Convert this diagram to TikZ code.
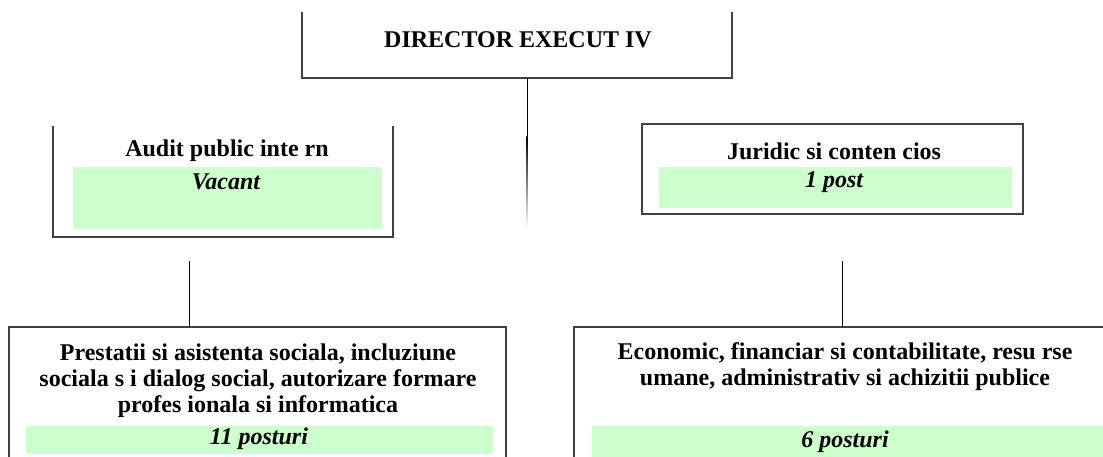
\documentclass[tikz,border=0pt]{standalone}
\usepackage{fontspec}
\setmainfont{Liberation Serif}
\begin{document}
\begin{tikzpicture}[x=1pt,y=-1pt,
  boxline/.style={draw=black!75,line width=1.4pt},
  conn/.style={draw=black,line width=1pt},
  greenbar/.style={fill=lightgreen,draw=none},
  title/.style={font=\bfseries\fontsize{24}{26}\selectfont,align=center,inner sep=0pt},
  posts/.style={font=\bfseries\itshape\fontsize{24}{26}\selectfont,inner sep=0pt},
  toptitle/.style={font=\bfseries\fontsize{24}{28}\selectfont,inner sep=0pt}]
\definecolor{lightgreen}{HTML}{CCFFCC}
\useasboundingbox (0,0) rectangle (1103,457);
\begin{scope}
\clip (0,0) rectangle (1103,457);
% green bars
\fill[greenbar] (73,167) rectangle (382,229);
\fill[greenbar] (659,167) rectangle (1012,208);
\fill[greenbar] (26,426) rectangle (493,454);
\fill[greenbar] (592,426) rectangle (1110,457);
% boxes
\draw[boxline] (302,12) -- (302,78) -- (732,78) -- (732,12);
\draw[boxline] (53,126) -- (53,237) -- (393,237) -- (393,126);
\draw[boxline] (642,124) rectangle (1023,214);
\draw[boxline] (9,465) -- (9,327) -- (506,327) -- (506,465);
\draw[boxline] (574,465) -- (574,327) -- (1110,327);
% texts
\node[toptitle] (dir) at (518,40) {DIRECTOR EXECUT IV};
\node[title] (audit) at (227,151) {Audit public inte rn};
\node[posts] (vacant) at (226,182) {Vacant};
\node[title] (jur) at (834,151) {Juridic si conten cios};
\node[posts] (onepost) at (834,182) {1 post};
\node[title] (prest) at (258,381) {Prestatii si asistenta sociala, incluziune\\sociala s i dialog social, autorizare formare\\profes ionala si informatica};
\node[posts] (elevenp) at (259,439) {11 posturi};
\node[title] (econ) at (845,367) {Economic, financiar si contabilitate, resu rse\\umane, administrativ si achizitii publice};
\node[posts] (sixp) at (845,442) {6 posturi};
% connectors
\coordinate (dirbot) at (527,78);
\coordinate (dirmid) at (527,137);
\coordinate (dirend) at (527,228);
\draw[conn] (dirbot) -- (dirmid);
\shade[top color=black,bottom color=white] ([xshift=-0.6pt]dirmid) rectangle ([xshift=0.6pt]dirend);
\coordinate (lefttop) at (189,261);
\coordinate (leftbot) at (189,327);
\draw[conn] (lefttop) -- (leftbot);
\coordinate (righttop) at (842,261);
\coordinate (rightbot) at (842,327);
\draw[conn] (righttop) -- (rightbot);
\end{scope}
\end{tikzpicture}
\end{document}
